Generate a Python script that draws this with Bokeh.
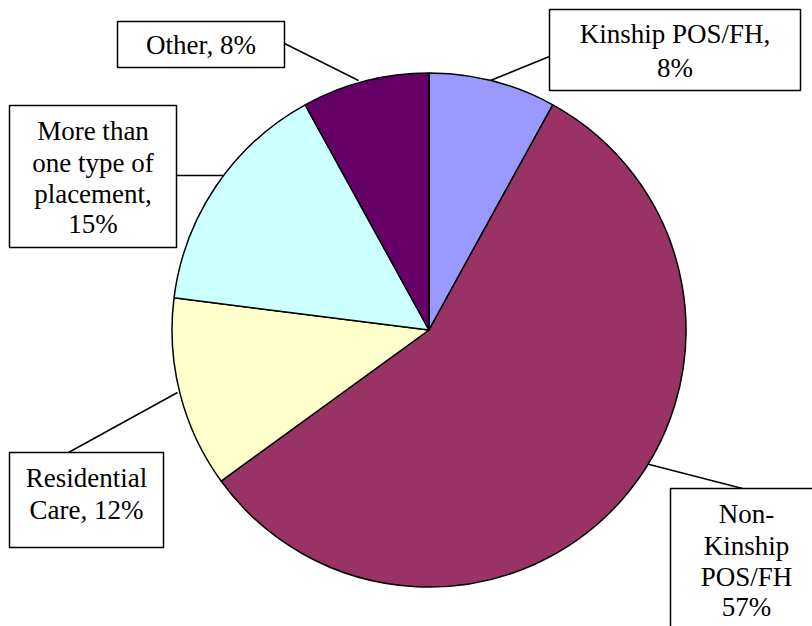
import math
from bokeh.plotting import figure
from bokeh.models import Range1d, ColumnDataSource
from bokeh.embed import file_html
from bokeh.resources import INLINE
from bokeh.core.properties import value

# ---- data ----
categories = ["Kinship POS/FH", "Non-Kinship POS/FH", "Residential Care",
              "More than one type of placement", "Other"]
shares = [8, 57, 12, 15, 8]
label_templates = [
    ["Kinship POS/FH,", "{}%"],
    ["Non-", "Kinship", "POS/FH", "{}%"],
    ["Residential", "Care, {}%"],
    ["More than", "one type of", "placement,", "{}%"],
    ["Other, {}%"],
]
colors = ["#9999FF", "#993366", "#FFFFCC", "#CCFFFF", "#660066"]

# ---- layout (picture pixel coordinates) ----
W, H = 812, 626
def Y(py):
    return H - py

cx, cy, r = 428.5, 329.5, 257
boxes = [  # left, top, right, bottom
    (549, 9, 800, 90),
    (670, 488, 840, 660),
    (9, 452, 163, 547),
    (9, 105, 176, 247),
    (117, 21, 284, 67),
]
text_x = [674.5, 746, 86, 92.5, 200.5]
text_y = [[33, 67], [513, 545, 576.5, 606], [477, 509.5],
          [130.5, 162, 193, 223.5], [44]]
leaders = [
    ((490, 80), (549, 56)),
    ((645, 463), (742, 488)),
    ((177, 392), (68, 452)),
    ((225, 175), (176, 175)),
    ((358, 80), (284, 43)),
]

p = figure(width=W, height=H, output_backend="svg", toolbar_location=None,
           x_range=Range1d(0, W), y_range=Range1d(0, H),
           x_axis_type=None, y_axis_type=None, min_border=0)
p.grid.visible = False
p.outline_line_color = None
p.background_fill_color = "white"
p.border_fill_color = "white"

# leader lines
p.segment(x0=[a[0] for a, b in leaders], y0=[Y(a[1]) for a, b in leaders],
          x1=[b[0] for a, b in leaders], y1=[Y(b[1]) for a, b in leaders],
          line_color="black", line_width=1.5)

# wedges (clockwise from 12 o'clock)
total = sum(shares)
starts, ends = [], []
cum = 0
for s in shares:
    starts.append(math.pi / 2 - 2 * math.pi * cum / total)
    cum += s
    ends.append(math.pi / 2 - 2 * math.pi * cum / total)
src = ColumnDataSource(dict(cat=categories, share=shares, start=starts, end=ends, color=colors))
p.wedge(x=cx, y=Y(cy), radius=r, start_angle="start", end_angle="end",
        direction="clock", fill_color="color", line_color="black",
        line_width=1.5, source=src)

# label boxes
p.quad(left=[b[0] for b in boxes], right=[b[2] for b in boxes],
       top=[Y(b[1]) for b in boxes], bottom=[Y(b[3]) for b in boxes],
       fill_color="white", line_color="black", line_width=1.5)

# label text
tx, ty, tt = [], [], []
for i, tmpl in enumerate(label_templates):
    for j, line in enumerate(tmpl):
        tx.append(text_x[i])
        ty.append(Y(text_y[i][j]))
        tt.append(line.format(shares[i]))
p.text(x=tx, y=ty, text=tt, text_font=value("Liberation Serif"),
       text_font_size="27px", text_align="center", text_baseline="middle",
       text_color="black")

open("out.html", "w").write(file_html(p, INLINE))
